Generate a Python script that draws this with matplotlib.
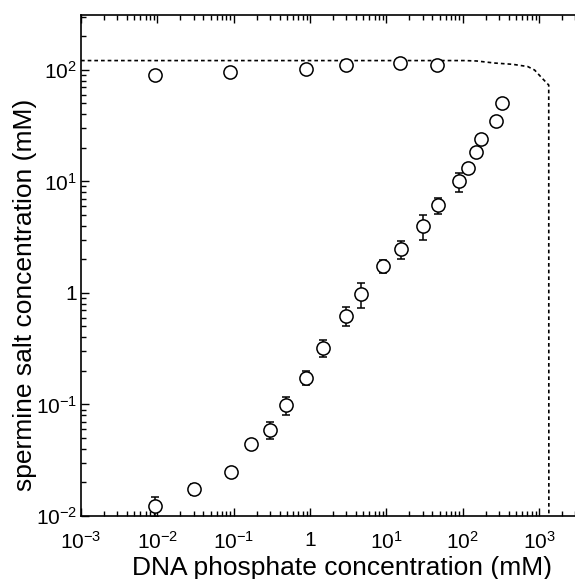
import numpy as np
import matplotlib
matplotlib.use('Agg')
import matplotlib.pyplot as plt
from matplotlib.ticker import FixedLocator, FixedFormatter

plt.rcParams['font.family'] = ['Liberation Sans', 'DejaVu Sans']
plt.rcParams['mathtext.fontset'] = 'custom'
plt.rcParams['mathtext.rm'] = 'Liberation Sans'
plt.rcParams['mathtext.it'] = 'Liberation Sans:italic'

# upper branch (open circles near 100 mM)
dna_top = [0.0092, 0.089, 0.88, 3.0, 15.3, 46]
salt_top = [90, 96, 102, 111, 115, 111]

# lower branch with error bars
dna_low = [0.0093, 0.030, 0.092, 0.168, 0.30, 0.48, 0.88, 1.47, 3.0, 4.7,
           9.1, 15.4, 30, 48, 90, 117, 148, 172, 270, 331]
salt_low = [0.0123, 0.0175, 0.0249, 0.0443, 0.059, 0.099, 0.173, 0.32, 0.625, 0.98,
            1.75, 2.48, 4.0, 6.1, 10.0, 13.3, 18.3, 23.9, 34.9, 50.9]
salt_err = [0.0025, 0.002, 0, 0, 0.01, 0.018, 0.025, 0.055, 0.12, 0.25,
            0.24, 0.45, 1.0, 1.0, 2.0, 0, 0, 0, 0, 0]

# dotted boundary curve
curve_x = [0.001, 50, 106, 152, 262, 451, 710, 875, 1081, 1340, 1345]
curve_y = [121, 121, 121, 120, 115, 112, 107, 99.5, 85, 73, 0.01]

fig = plt.figure(figsize=(5.75, 5.79), dpi=100)
# axes run past the right edge of the figure (right spine cropped off)
ax = fig.add_axes([0.1409, 0.1088, 0.9078, 0.8653])

ax.plot(curve_x, curve_y, color='black', lw=1.2, linestyle=(0, (2.2, 1.8)))
ax.errorbar(dna_low, salt_low, yerr=salt_err, fmt='o', mfc='white', mec='black',
            ms=9.5, mew=1.1, ecolor='black', elinewidth=1.1, capsize=3, capthick=1.1,
            zorder=3)
ax.plot(dna_top, salt_top, 'o', mfc='white', mec='black', ms=9.5, mew=1.1, zorder=3)

ax.set_xscale('log')
ax.set_yscale('log')
ax.set_xlim(1e-3, 10 ** 3.838)
ax.set_ylim(0.01, 310)

xt = [1e-3, 1e-2, 1e-1, 1, 10, 100, 1000]
xl = ['$10^{-3}$', '$10^{-2}$', '$10^{-1}$', '1', '$10^{1}$', '$10^{2}$', '$10^{3}$']
yt = [1e-2, 1e-1, 1, 10, 100]
yl = ['$10^{-2}$', '$10^{-1}$', '1', '$10^{1}$', '$10^{2}$']
ax.xaxis.set_major_locator(FixedLocator(xt))
ax.xaxis.set_major_formatter(FixedFormatter(xl))
ax.yaxis.set_major_locator(FixedLocator(yt))
ax.yaxis.set_major_formatter(FixedFormatter(yl))

ax.tick_params(which='both', direction='in', top=True, right=False, labelsize=15)
ax.tick_params(which='major', length=6, width=1)
ax.tick_params(which='minor', length=3.5, width=1)
ax.tick_params(axis='x', pad=11)
ax.tick_params(axis='y', pad=3)
for s in ax.spines.values():
    s.set_linewidth(1.2)

ax.set_xlabel('DNA phosphate concentration (mM)', fontsize=19)
ax.set_ylabel('spermine salt concentration (mM)', fontsize=19)
ax.xaxis.set_label_coords(0.5, -0.080)
ax.yaxis.set_label_coords(-0.0843, 0.441)

fig.savefig('out.png', dpi=100)
